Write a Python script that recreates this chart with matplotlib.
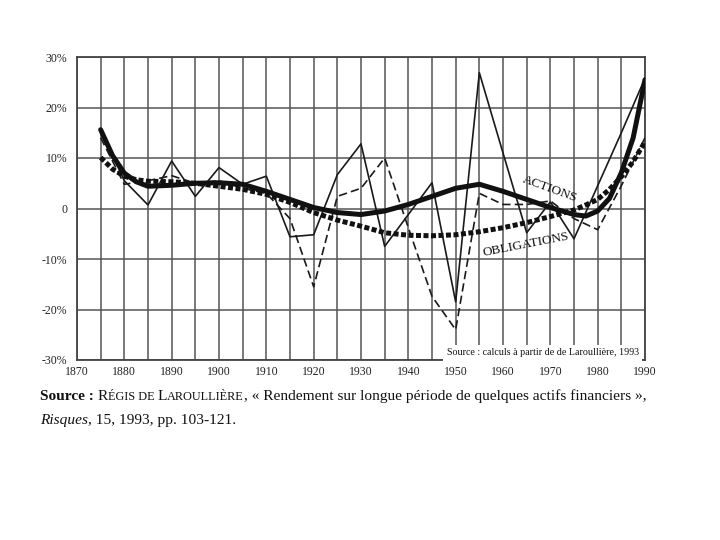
import matplotlib
matplotlib.use("Agg")
import matplotlib.pyplot as plt

plt.rcParams['font.family'] = ['Liberation Serif', 'DejaVu Serif']

# ---- data ----
years = [1875, 1880, 1885, 1890, 1895, 1900, 1905, 1910, 1915, 1920, 1925, 1930,
         1935, 1940, 1945, 1950, 1955, 1960, 1965, 1970, 1975, 1980, 1985, 1990]
actions = [15.6, 5.5, 0.7, 9.4, 2.4, 8.1, 4.8, 6.4, -5.6, -5.2, 6.7, 12.8,
           -7.5, -1.2, 5.1, -18.5, 26.9, 11.0, -4.8, 1.3, -6.0, 4.5, 15.0, 25.8]
obligations = [14.0, 4.8, 5.5, 6.5, 5.0, 5.5, 4.0, 3.0, -2.0, -15.5, 2.4, 4.0,
               10.0, -3.8, -17.4, -24.0, 3.0, 0.8, 0.8, 1.5, -2.0, -4.2, 4.5, 14.0]

trend_years = [1875, 1877.5, 1880, 1882.5, 1885, 1890, 1895, 1900, 1905, 1910, 1915,
               1920, 1925, 1930, 1935, 1940, 1945, 1950, 1955, 1960, 1965, 1970,
               1975, 1977.5, 1980, 1982.5, 1985, 1987.5, 1990]
actions_trend = [15.6, 10.5, 7.0, 5.3, 4.4, 4.6, 5.0, 5.1, 4.8, 3.4, 1.8,
                 0.2, -0.8, -1.2, -0.5, 0.8, 2.4, 4.0, 4.8, 3.4, 1.8, 0.2,
                 -1.2, -1.5, -0.5, 2.0, 7.1, 14.0, 25.5]
obligations_trend = [10.1, 7.8, 6.4, 5.7, 5.4, 5.3, 5.0, 4.4, 3.8, 2.8, 1.2,
                     -0.8, -2.3, -3.5, -4.8, -5.3, -5.4, -5.2, -4.6, -3.8, -2.8, -1.6,
                     -0.3, 0.7, 1.8, 3.8, 6.3, 9.3, 13.2]

xticks = [1870, 1880, 1890, 1900, 1910, 1920, 1930, 1940, 1950, 1960, 1970, 1980, 1990]
yticks = [-30, -20, -10, 0, 10, 20, 30]
ytick_labels = ['-30%', '-20%', '-10%', '0', '10%', '20%', '30%']

W, H = 720, 540
fig = plt.figure(figsize=(7.2, 5.4), dpi=100)
fig.patch.set_facecolor('white')
ax = fig.add_axes([77 / W, 1 - 360 / H, (645 - 77) / W, (360 - 57) / H])
ax.set_xlim(1870, 1990)
ax.set_ylim(-30, 30)

ax.set_xticks(xticks)
ax.set_xticks(list(range(1875, 1990, 10)), minor=True)
ax.set_yticks(yticks)
ax.set_yticklabels(ytick_labels)
ax.tick_params(axis='both', which='both', length=0, labelsize=8.5, colors='#222')
ax.tick_params(axis='x', pad=4)
ax.tick_params(axis='y', pad=7)
ax.grid(True, which='both', color='#555555', linewidth=1.1)
ax.set_axisbelow(True)
for s in ax.spines.values():
    s.set_color('#444444')
    s.set_linewidth(1.3)

ax.plot(years, actions, color='#1a1a1a', lw=1.2, zorder=3)
ax.plot(years, obligations, color='#1a1a1a', lw=1.2, dashes=(5, 2.5), zorder=3)
ax.plot(trend_years, actions_trend, color='#111111', lw=3.6, zorder=4,
        solid_capstyle='round', solid_joinstyle='round')
ax.plot(trend_years, obligations_trend, color='#111111', lw=3.6, dashes=(1.0, 0.5), zorder=4)

ax.text(1970.0, 3.8, 'ACTIONS', rotation=-20, ha='center', va='center',
        fontsize=9.5, color='#111', zorder=5)
ax.text(1964.8, -7.1, 'OBLIGATIONS', rotation=11, ha='center', va='center',
        fontsize=9.5, color='#111', zorder=5)
ax.text(1988.7, -28.6, 'Source : calculs à partir de de Laroullière, 1993',
        ha='right', va='center', fontsize=7.2, color='#111', zorder=6,
        bbox=dict(facecolor='white', edgecolor='none', pad=2.5))

# ---- caption below the chart ----
fig.canvas.draw()
renderer = fig.canvas.get_renderer()


def rich_line(x_px, y_px, parts):
    x = x_px
    for txt, props in parts:
        t = fig.text(x / W, 1 - y_px / H, txt, va='baseline', ha='left',
                     color='#111', **props)
        bb = t.get_window_extent(renderer)
        x += bb.width


big = 11.1
small = 8.8
rich_line(40, 400, [
    ('Source\u00a0:\u00a0', dict(fontsize=big, fontweight='bold')),
    ('R', dict(fontsize=big)),
    ('ÉGIS DE\u00a0', dict(fontsize=small)),
    ('L', dict(fontsize=big)),
    ('AROULLIÈRE', dict(fontsize=small)),
    (', « Rendement sur longue période de quelques actifs financiers »,', dict(fontsize=big)),
])
rich_line(40, 424, [
    ('Risques', dict(fontsize=big, fontstyle='italic')),
    (', 15, 1993, pp. 103-121.', dict(fontsize=big)),
])

fig.savefig('out.png', dpi=100)
